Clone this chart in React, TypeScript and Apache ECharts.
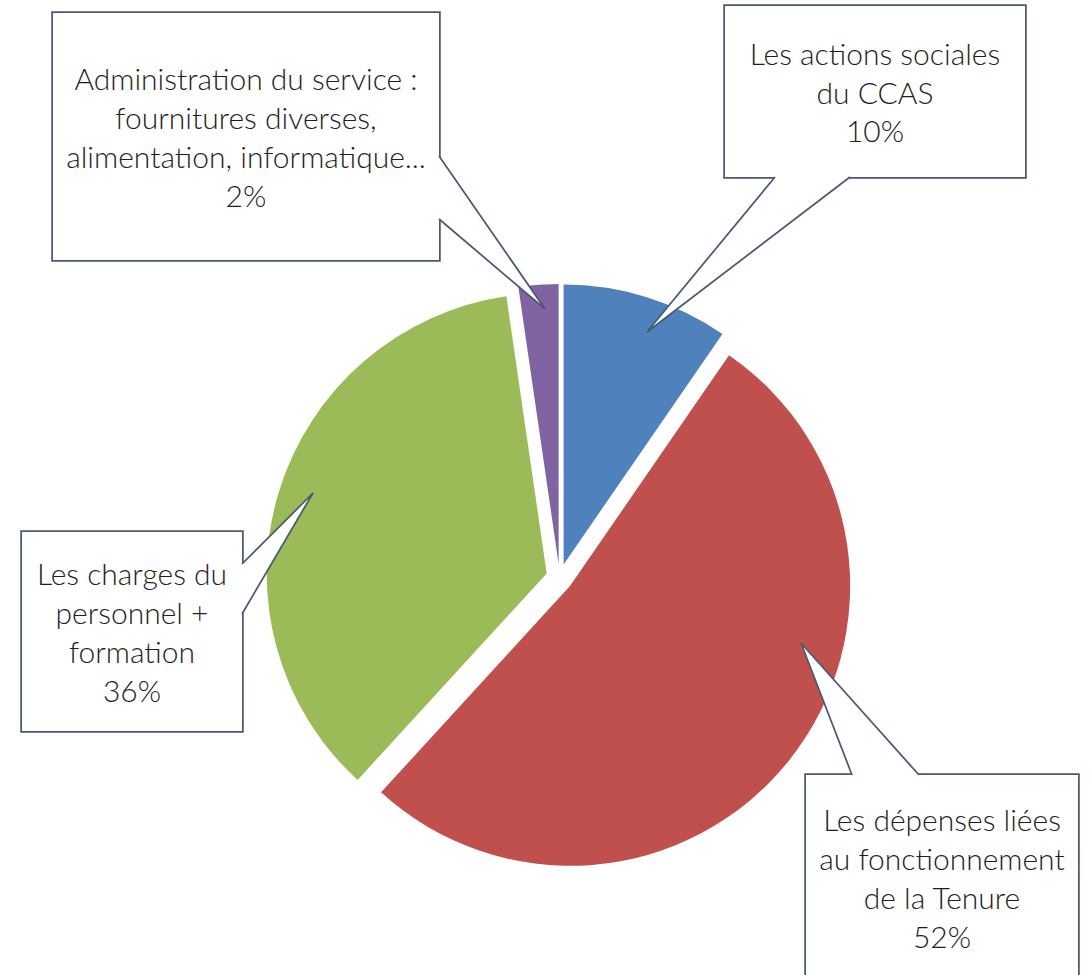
import React, { useEffect, useRef } from "react";
import * as echarts from "echarts";

// Data (labels show rounded percentages)
const categories = [
  "Les actions sociales\ndu CCAS",
  "Les dépenses liées\nau fonctionnement\nde la Tenure",
  "Les charges du\npersonnel +\nformation",
  "Administration du service :\nfournitures diverses,\nalimentation, informatique...",
];
const values = [9.6, 52.2, 35.9, 2.3];
const colors = ["#4F81BD", "#C0504D", "#9BBB59", "#8064A2"];

// Callout layout (box: left, top, width, height; wedge base points and tip)
const boxes = [
  { l: 725, t: 6, w: 300, h: 171, lines: 3 },
  { l: 806, t: 775, w: 272, h: 205, lines: 4 },
  { l: 22, t: 532, w: 220, h: 199, lines: 4 },
  { l: 53, t: 13, w: 386, h: 247, lines: 4 },
];
const wedges = [
  { a: [775, 177], tip: [647, 332], b: [850, 177], dir: [0, -1] },
  { a: [852, 775], tip: [801, 643], b: [919, 775], dir: [0, 1] },
  { a: [242, 564], tip: [313, 493], b: [242, 614], dir: [-1, 0] },
  { a: [439, 156], tip: [545, 309], b: [439, 219], dir: [-1, 0] },
];

const FONT = "Lato";
const FONT_SIZE = 30;
const LINE_H = 38.7;
const BORDER = "#4A5A70";
const TEXT = "#1e1e1e";
const CENTER = [559.6, 577.4];
const RADIUS = 280;

export default function App() {
  const ref = useRef<HTMLDivElement>(null);
  useEffect(() => {
    if (!ref.current) return;
    const chart = echarts.init(ref.current, null, { renderer: "svg" });
    const sliceData = values.map((v, i) => ({
      name: categories[i],
      value: v,
      selected: true,
      itemStyle: { color: colors[i] },
    }));
    const labelData = values.map((v, i) => {
      const bx = boxes[i];
      const padV = (bx.h - bx.lines * LINE_H) / 2;
      return {
        name: categories[i],
        value: v,
        itemStyle: { color: "rgba(0,0,0,0)" },
        label: {
          width: bx.w - 10,
          padding: [padV, 5, padV, 5],
        },
      };
    });
    const graphics: any[] = [];
    wedges.forEach((wd) => {
      const inA = [wd.a[0] + wd.dir[0] * 3, wd.a[1] + wd.dir[1] * 3];
      const inB = [wd.b[0] + wd.dir[0] * 3, wd.b[1] + wd.dir[1] * 3];
      graphics.push({
        type: "polygon",
        z: 100,
        silent: true,
        shape: { points: [inA, wd.a, wd.tip, wd.b, inB] },
        style: { fill: "#ffffff", stroke: null, lineWidth: 0 },
      });
      graphics.push({
        type: "polyline",
        z: 101,
        silent: true,
        shape: { points: [wd.a, wd.tip, wd.b] },
        style: { fill: null, stroke: BORDER, lineWidth: 1.75 },
      });
    });
    chart.setOption({
      animation: false,
      backgroundColor: "#ffffff",
      graphic: { elements: graphics },
      series: [
        {
          type: "pie",
          z: 1,
          center: CENTER,
          radius: RADIUS,
          startAngle: 90,
          clockwise: true,
          selectedMode: "multiple",
          selectedOffset: 13.5,
          silent: true,
          emphasis: { disabled: true },
          itemStyle: { borderWidth: 0 },
          label: { show: false },
          labelLine: { show: false },
          data: sliceData,
        },
        {
          type: "pie",
          z: 3,
          center: CENTER,
          radius: RADIUS,
          startAngle: 90,
          clockwise: true,
          silent: true,
          percentPrecision: 0,
          avoidLabelOverlap: false,
          emphasis: { disabled: true },
          itemStyle: { borderWidth: 0 },
          labelLine: { show: false },
          label: {
            show: true,
            position: "center",
            formatter: "{b}\n{d}%",
            fontFamily: FONT,
            fontWeight: 300,
            fontSize: FONT_SIZE,
            lineHeight: LINE_H,
            color: TEXT,
            align: "center",
            backgroundColor: "#ffffff",
            borderColor: BORDER,
            borderWidth: 1.75,
            overflow: "none",
          },
          labelLayout: (params: any) => {
            const bx = boxes[params.dataIndex];
            return {
              x: bx.l + bx.w / 2,
              y: bx.t + bx.h / 2,
              align: "center",
              verticalAlign: "middle",
            };
          },
          data: labelData,
        },
      ],
    });
    return () => chart.dispose();
  }, []);
  return (
    <div
      ref={ref}
      style={{ position: "absolute", left: 0, top: 0, width: 1091, height: 975 }}
    />
  );
}
